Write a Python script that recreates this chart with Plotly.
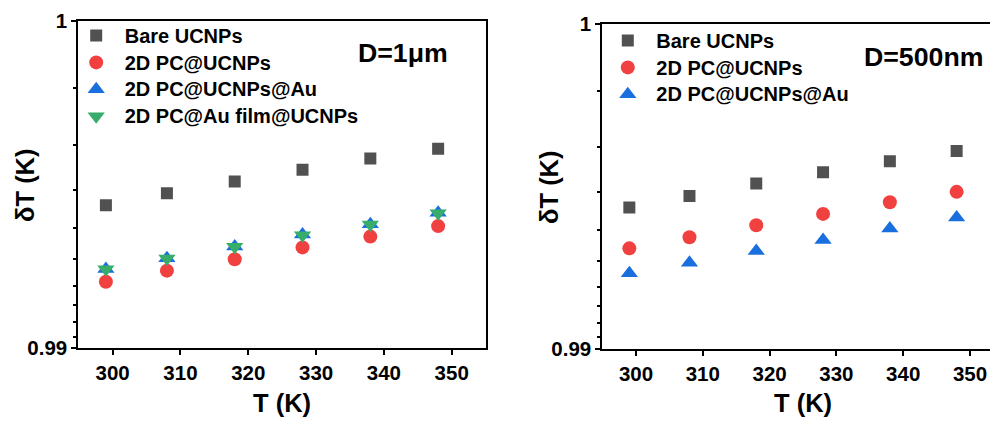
import plotly.graph_objects as go

# ---------------- data ----------------
T = [299, 308, 318, 328, 338, 348]

# Left panel (D = 1 um)
left_bare = [0.99437, 0.99473, 0.99509, 0.99545, 0.99579, 0.99609]
left_pc = [0.99203, 0.99237, 0.99272, 0.99308, 0.99341, 0.99373]
left_pc_au = [0.99242, 0.99275, 0.99311, 0.99347, 0.99379, 0.99414]
left_pc_aufilm = [0.99241, 0.99274, 0.99310, 0.99345, 0.99378, 0.99412]

# Right panel (D = 500 nm)
right_bare = [0.99436, 0.99471, 0.99510, 0.99544, 0.99578, 0.99610]
right_pc = [0.99310, 0.99344, 0.99381, 0.99416, 0.99452, 0.99484]
right_pc_au = [0.99233, 0.99266, 0.99302, 0.99336, 0.99371, 0.99405]

names = ["Bare UCNPs", "2D PC@UCNPs", "2D PC@UCNPs@Au", "2D PC@Au film@UCNPs"]
x_ticks = [300, 310, 320, 330, 340, 350]
y_major = [0.99, 1.0]
y_major_text = ["0.99", "1"]
# minor tick fractions of the (nonlinear) original axis, from the bottom
y_minor_frac = [0.036, 0.079, 0.132, 0.190, 0.272, 0.366, 0.482, 0.622, 0.795]

# ---------------- style / layout ----------------
FONT = "Liberation Sans, Arial, sans-serif"
C_GRAY = "#515151"
C_RED = "#F14040"
C_BLUE = "#1A6FDF"
C_GREEN = "#37AD6B"

# the page body has an 8px margin, so the figure is drawn at (8, 8)
OFF = 8
W, H = 990, 414


def px(sx):
    return (sx - OFF) / W


def py(sy):
    return (H - (sy - OFF)) / H


styles = [
    dict(symbol="square", color=C_GRAY, size=12),
    dict(symbol="circle", color=C_RED, size=14),
    dict(symbol="triangle-up", color=C_BLUE, size=15),
    dict(symbol="triangle-down", color=C_GREEN, size=15),
]


def legend_label(s):
    return '<span style="font-size:20px">' + s + "</span>"


fig = go.Figure()

left_series = [left_bare, left_pc, left_pc_au, left_pc_aufilm]
for name, ys, st in zip(names, left_series, styles):
    fig.add_trace(go.Scatter(
        x=T, y=ys, mode="markers", name=legend_label(name),
        marker=dict(symbol=st["symbol"], color=st["color"], size=st["size"],
                    line=dict(width=0)),
        xaxis="x", yaxis="y", legend="legend",
    ))

right_series = [right_bare, right_pc, right_pc_au]
for name, ys, st in zip(names[:3], right_series, styles[:3]):
    fig.add_trace(go.Scatter(
        x=T, y=ys, mode="markers", name=legend_label(name),
        marker=dict(symbol=st["symbol"], color=st["color"], size=st["size"],
                    line=dict(width=0)),
        xaxis="x2", yaxis="y2", legend="legend2",
    ))

# empty helper traces so the overlay axes (major y ticks) are drawn
fig.add_trace(go.Scatter(x=[], y=[], xaxis="x", yaxis="y3", showlegend=False,
                         hoverinfo="skip"))
fig.add_trace(go.Scatter(x=[], y=[], xaxis="x2", yaxis="y4", showlegend=False,
                         hoverinfo="skip"))

minor_vals = [0.99 + 0.01 * f for f in y_minor_frac]

tickfont = dict(family=FONT, size=20.5, color="black", weight="bold")


def xaxis_cfg(domain, rng, anchor):
    return dict(
        domain=domain, range=rng, anchor=anchor, showgrid=False, zeroline=False,
        showline=True, linecolor="black", linewidth=2, mirror=True,
        ticks="outside", ticklen=5, tickwidth=2, tickcolor="black",
        tickmode="array", tickvals=x_ticks, tickfont=tickfont,
        automargin=False,
    )


def yaxis_minor_cfg(domain, anchor, mirror):
    return dict(
        domain=domain, range=[0.99, 1.0], anchor=anchor, showgrid=False,
        zeroline=False, showline=True, linecolor="black", linewidth=2,
        mirror=mirror, ticks="outside", ticklen=3, tickwidth=2,
        tickcolor="black", tickmode="array", tickvals=minor_vals,
        showticklabels=False, automargin=False,
    )


def yaxis_major_cfg(base, anchor):
    return dict(
        overlaying=base, anchor=anchor, range=[0.99, 1.0], showgrid=False,
        zeroline=False, showline=False, ticks="outside", ticklen=6,
        tickwidth=2, tickcolor="black", tickmode="array", tickvals=y_major,
        ticktext=y_major_text, tickfont=tickfont, automargin=False,
        side="left",
    )


def text_ann(text, sx, sy, size, angle=0):
    return dict(text=text, x=px(sx), y=py(sy), xref="paper", yref="paper",
                showarrow=False, xanchor="center", yanchor="middle",
                textangle=angle,
                font=dict(family=FONT, size=size, color="black", weight="bold"))


legend_font = dict(family=FONT, size=18.4, color="black", weight="bold")

fig.update_layout(
    width=W, height=H,
    margin=dict(l=0, r=0, t=0, b=0),
    paper_bgcolor="white", plot_bgcolor="white",
    xaxis=xaxis_cfg([px(78.3), px(486)], [294.93, 355.06], "y"),
    yaxis=yaxis_minor_cfg([py(348.3), py(20.7)], "x", True),
    yaxis3=yaxis_major_cfg("y", "x"),
    xaxis2=xaxis_cfg([px(602.3), 1.0], [294.95, 354.19], "y2"),
    yaxis2=yaxis_minor_cfg([py(349), py(24.3)], "x2", False),
    yaxis4=yaxis_major_cfg("y2", "x2"),
    legend=dict(
        x=px(67.7), y=py(17), xanchor="left", yanchor="top",
        bgcolor="rgba(0,0,0,0)", borderwidth=0, itemwidth=47,
        font=legend_font, tracegroupgap=0,
    ),
    legend2=dict(
        x=px(599.3), y=py(22), xanchor="left", yanchor="top",
        bgcolor="rgba(0,0,0,0)", borderwidth=0, itemwidth=47,
        font=legend_font, tracegroupgap=0,
    ),
    showlegend=True,
    annotations=[
        text_ann("D=1μm", 403, 53.3, 26.7),
        text_ann("D=500nm", 923.7, 57.3, 26.7),
        text_ann("T (K)", 281.7, 403.3, 25.5),
        text_ann("T (K)", 803.3, 403, 25.5),
        text_ann("δT (K)", 25, 185, 25.5, -90),
        text_ann("δT (K)", 548.3, 186.7, 25.5, -90),
    ],
)

fig.write_html("out.html")
